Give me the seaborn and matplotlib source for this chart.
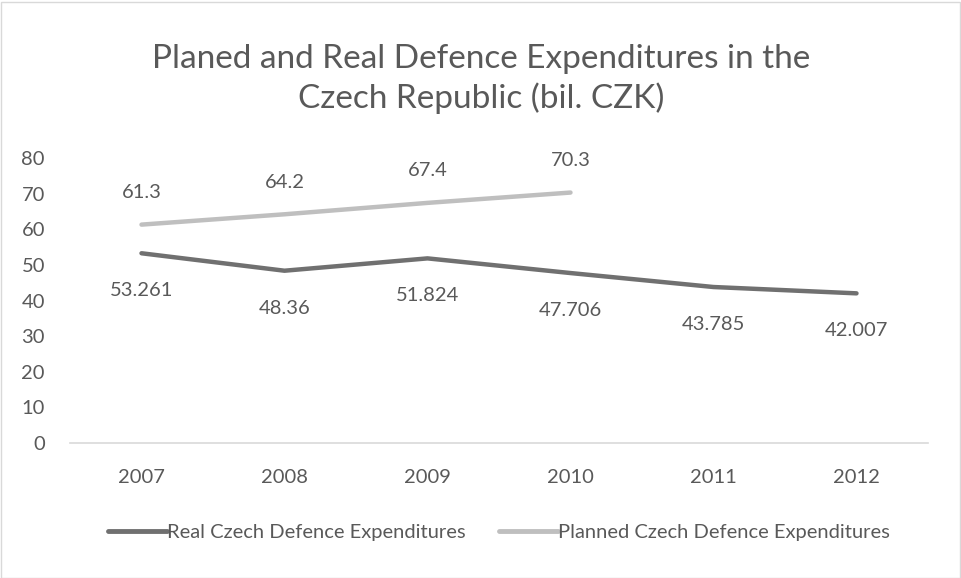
import pandas as pd
import numpy as np
import matplotlib.pyplot as plt
import seaborn as sns
from matplotlib.patches import Rectangle

years = ["2007", "2008", "2009", "2010", "2011", "2012"]
real = [53.261, 48.36, 51.824, 47.706, 43.785, 42.007]
planned = [61.3, 64.2, 67.4, 70.3]
real_name = "Real Czech Defence Expenditures"
planned_name = "Planned Czech Defence Expenditures"

df = pd.DataFrame({"Year": years + years[:len(planned)],
                   "Value": real + planned,
                   "Series": [real_name] * len(real) + [planned_name] * len(planned)})

sns.set_theme(style="white")
plt.rcParams['font.family'] = ['Lato', 'DejaVu Sans']
text_color = "#595959"
fs = 14.5

fig = plt.figure(figsize=(9.62, 5.78), dpi=100)
ax = fig.add_axes([70 / 962, 1 - 443 / 578, 858 / 962, 285 / 578])

sns.lineplot(data=df, x="Year", y="Value", hue="Series",
             palette={real_name: "#707070", planned_name: "#bfbfbf"},
             linewidth=3.2, ax=ax, sort=False, legend=True)

ax.set_xlim(-0.5, len(years) - 0.5)
ax.set_ylim(0, 80)
ax.set_yticks(range(0, 81, 10))
ax.set_xlabel("")
ax.set_ylabel("")
for s in ["top", "right", "left"]:
    ax.spines[s].set_visible(False)
ax.spines["bottom"].set_color("#d9d9d9")
ax.spines["bottom"].set_linewidth(1.2)
ax.tick_params(axis="both", length=0, labelsize=fs, colors=text_color)
ax.tick_params(axis="x", pad=19)
ax.tick_params(axis="y", pad=18)

# data labels: real below the line, planned above
for i, v in enumerate(real):
    ax.annotate(f"{v:g}", (i, v), xytext=(0, -27), textcoords="offset points",
                ha="center", va="center", fontsize=fs, color=text_color)
for i, v in enumerate(planned):
    ax.annotate(f"{v:g}", (i, v), xytext=(0, 23), textcoords="offset points",
                ha="center", va="center", fontsize=fs, color=text_color)

leg = ax.legend(loc="center", bbox_to_anchor=(0.5, -0.315), ncol=2, frameon=False,
                fontsize=fs, handlelength=2.9, handletextpad=0.0, columnspacing=1.7)
for t in leg.get_texts():
    t.set_color(text_color)
for h in leg.get_lines():
    h.set_linewidth(3.5)

fig.text(0.5, 1 - 79 / 578, "Planed and Real Defence Expenditures in the\nCzech Republic (bil. CZK)",
         ha="center", va="center", fontsize=24, color=text_color, linespacing=1.3)

fig.patches.append(Rectangle((0.5 / 962, 0.5 / 578), 1 - 2 / 962, 1 - 2 / 578,
                             transform=fig.transFigure, fill=False,
                             edgecolor="#d9d9d9", linewidth=1))

fig.savefig("out.png", dpi=100)
